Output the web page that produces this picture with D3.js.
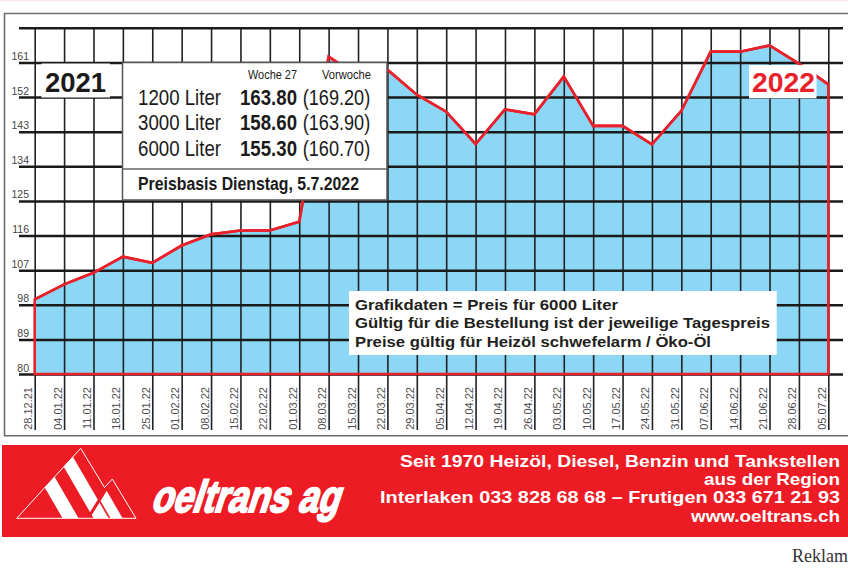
<!DOCTYPE html>
<html>
<head>
<meta charset="utf-8">
<script src="https://cdn.jsdelivr.net/npm/d3@7"></script>
<style>
  body { margin: 0; background: #fff; }
  svg { display: block; font-family: "Liberation Sans", Arial, sans-serif; }
</style>
</head>
<body>
<script>
// weekly price data (6000 Liter)
const dates = ["28.12.21", "04.01.22", "11.01.22", "18.01.22", "25.01.22", "01.02.22", "08.02.22",
  "15.02.22", "22.02.22", "01.03.22", "08.03.22", "15.03.22", "22.03.22", "29.03.22", "05.04.22",
  "12.04.22", "19.04.22", "26.04.22", "03.05.22", "10.05.22", "17.05.22", "24.05.22", "31.05.22",
  "07.06.22", "14.06.22", "21.06.22", "28.06.22", "05.07.22"];
const prices = [99.4, 103.3, 106.3, 110.5, 108.9, 113.4, 116.3, 117.3, 117.3, 119.6, 162.5,
  157.5, 159.1, 152.6, 148.2, 139.8, 148.8, 147.5, 157.3, 144.5, 144.5, 139.7, 148.4,
  163.8, 163.8, 165.4, 160.7, 155.3];
const yTicks = [80, 89, 98, 107, 116, 125, 134, 143, 152, 161, 170];

// info box
const boxRows = ["1200 Liter", "3000 Liter", "6000 Liter"];
const woche27 = ["163.80", "158.60", "155.30"];
const vorwoche = ["(169.20)", "(163.90)", "(160.70)"];
const notes = ["Grafikdaten = Preis für 6000 Liter",
  "Gültig für die Bestellung ist der jeweilige Tagespreis",
  "Preise gültig für Heizöl schwefelarm / Öko-Öl"];
const bannerLines = ["Seit 1970 Heizöl, Diesel, Benzin und Tankstellen",
  "aus der Region",
  "Interlaken 033 828 68 68 – Frutigen 033 671 21 93",
  "www.oeltrans.ch"];

const width = 848, height = 570;
const red = "#e8212b", blue = "#8cd6f6";

const svg = d3.select("body").append("svg")
  .attr("width", width)
  .attr("height", height);

svg.append("rect").attr("x", 0).attr("y", 0).attr("width", width).attr("height", 1.5).attr("fill", "#fce6e6");

// outer frame
svg.append("path")
  .attr("d", "M848,13.5 H4.5 V435.8 H848")
  .attr("fill", "none")
  .attr("stroke", "#6e6e6e")
  .attr("stroke-width", 1.6);

//----------------------------SCALES-----------------------------//
const x = d3.scalePoint().domain(dates).range([34.7, 828.3]);
const y = d3.scaleLinear().domain([80, 170]).range([374, 27.8]);

const area = d3.area()
  .x((d, i) => x(dates[i]))
  .y0(y(80))
  .y1(d => y(d));
const line = d3.line()
  .x((d, i) => x(dates[i]))
  .y(d => y(d));

// area fill
svg.append("path").datum(prices)
  .attr("d", area)
  .attr("fill", blue);

//-----------------------------AXES------------------------------//
const xAxis = svg.append("g")
  .attr("transform", "translate(0," + y(170) + ")")
  .call(d3.axisBottom(x).tickSize(430 - y(170)).tickSizeOuter(0));
xAxis.select(".domain").remove();
xAxis.selectAll("line").attr("stroke", "#222").attr("stroke-width", 1.6);
xAxis.selectAll("text")
  .attr("y", 0).attr("dy", 0)
  .attr("transform", "translate(-3," + (387 - y(170)) + ") rotate(-90)")
  .attr("text-anchor", "end")
  .attr("fill", "#4d4d4d")
  .style("font-size", "11px")
  .style("font-family", "Liberation Sans, Arial, sans-serif");

const yAxis = svg.append("g")
  .attr("transform", "translate(843,0)")
  .call(d3.axisLeft(y).tickValues(yTicks).tickSize(824)
    .tickFormat(d => d === 170 ? "" : d));
yAxis.select(".domain").remove();
yAxis.selectAll("line").attr("stroke", "#1a1a1a").attr("stroke-width", 2.5);
yAxis.selectAll("text")
  .attr("x", 29 - 843)
  .attr("dy", -3)
  .attr("fill", "#444")
  .style("font-size", "10.5px")
  .style("font-family", "Liberation Sans, Arial, sans-serif");

// red outline of the area and price line
svg.append("path").datum(prices)
  .attr("d", area)
  .attr("fill", "none")
  .attr("stroke", red)
  .attr("stroke-width", 2.6)
  .attr("stroke-linejoin", "miter");
svg.append("path").datum(prices)
  .attr("d", line)
  .attr("fill", "none")
  .attr("stroke", red)
  .attr("stroke-width", 2.6);

//--------------------------LABELS-------------------------------//
svg.append("rect").attr("x", 41.5).attr("y", 63.5).attr("width", 68.5).attr("height", 34).attr("fill", "#fff");
svg.append("text").attr("x", 45).attr("y", 91.7)
  .attr("textLength", 61).attr("lengthAdjust", "spacingAndGlyphs")
  .style("font-size", "28px").style("font-weight", "bold").attr("fill", "#1a1a1a")
  .text("2021");

svg.append("rect").attr("x", 749).attr("y", 65).attr("width", 67.5).attr("height", 33.3).attr("fill", "#fff");
svg.append("text").attr("x", 752).attr("y", 91.7)
  .attr("textLength", 63).attr("lengthAdjust", "spacingAndGlyphs")
  .style("font-size", "28px").style("font-weight", "bold").attr("fill", red)
  .text("2022");

// price box
svg.append("rect").attr("x", 122.5).attr("y", 62.5).attr("width", 264.5).attr("height", 137.5)
  .attr("fill", "#fff").attr("stroke", "#555").attr("stroke-width", 1.5);
svg.append("line").attr("x1", 122.5).attr("x2", 387).attr("y1", 169).attr("y2", 169)
  .attr("stroke", "#666").attr("stroke-width", 1.3);

function cText(tx, ty, len, size, weight, str) {
  return svg.append("text").attr("x", tx).attr("y", ty)
    .attr("textLength", len).attr("lengthAdjust", "spacingAndGlyphs")
    .style("font-size", size + "px").style("font-weight", weight)
    .attr("fill", "#1a1a1a")
    .text(str);
}
cText(248, 79, 49, 12, "normal", "Woche 27");
cText(322, 79, 49, 12, "normal", "Vorwoche");
const rowY = [105, 130.2, 155.5];
boxRows.forEach((r, i) => {
  cText(138, rowY[i], 83, 22, "normal", r);
  cText(240, rowY[i], 57, 22, "bold", woche27[i]);
  cText(302.7, rowY[i], 67.5, 22, "normal", vorwoche[i]);
});
cText(138, 189.5, 221, 18, "bold", "Preisbasis Dienstag, 5.7.2022");

// notes box
svg.append("rect").attr("x", 349).attr("y", 291).attr("width", 427.7).attr("height", 64).attr("fill", "#fff");
const noteLen = [263, 415, 356];
const noteY = [310, 328.4, 346.7];
notes.forEach((n, i) => {
  cText(355, noteY[i], noteLen[i], 15.5, "bold", n).attr("fill", "#231f20");
});

//--------------------------BANNER-------------------------------//
svg.append("rect").attr("x", 2).attr("y", 445).attr("width", 846).attr("height", 92).attr("fill", "#ed1c24");
const bannerX = [400, 704, 380, 691];
const bannerY = [466.7, 485, 503.3, 521.7];
bannerLines.forEach((b, i) => {
  svg.append("text").attr("x", bannerX[i]).attr("y", bannerY[i])
    .attr("textLength", 840 - bannerX[i]).attr("lengthAdjust", "spacingAndGlyphs")
    .style("font-size", "16.5px").style("font-weight", "bold")
    .attr("fill", "#fff")
    .text(b);
});

// logo
const defs = svg.append("defs");
defs.append("clipPath").attr("id", "bigTri").append("polygon")
  .attr("points", "16.7,518.3 80.7,448.3 123.2,518.3");
defs.append("clipPath").attr("id", "smallTri").append("polygon")
  .attr("points", "88,518.3 112.3,479 136,518.3");
function band(u0, u1, clip) {
  const k = 0.58;
  svg.append("polygon")
    .attr("points", [[u0 + k * 440, 440], [u1 + k * 440, 440], [u1 + k * 530, 530], [u0 + k * 530, 530]].join(" "))
    .attr("fill", "#fff")
    .attr("clip-path", "url(#" + clip + ")");
}
band(-238, -222, "bigTri");
band(-207, -192, "bigTri");
band(-190, -178, "smallTri");
svg.append("line").attr("x1", 112.3).attr("y1", 479).attr("x2", 88).attr("y2", 518.3)
  .attr("stroke", "#ed1c24").attr("stroke-width", 3);
svg.append("polygon")
  .attr("points", "16.7,518.3 80.7,448.3 104.5,487.5 112.3,479 136,518.3")
  .attr("fill", "none").attr("stroke", "#fff").attr("stroke-width", 1);

svg.append("text")
  .attr("x", 0).attr("y", 0)
  .attr("transform", "translate(150,511.7) skewX(-18)")
  .attr("textLength", 188).attr("lengthAdjust", "spacingAndGlyphs")
  .style("font-size", "45px").style("font-weight", "bold")
  .attr("fill", "#fff")
  .attr("stroke", "#fff").attr("stroke-width", 2)
  .text("oeltrans ag");

svg.append("text").attr("x", 792).attr("y", 561.7)
  .style("font-family", "Liberation Serif, serif").style("font-size", "18px")
  .attr("fill", "#333")
  .text("Reklam");
</script>
</body>
</html>
